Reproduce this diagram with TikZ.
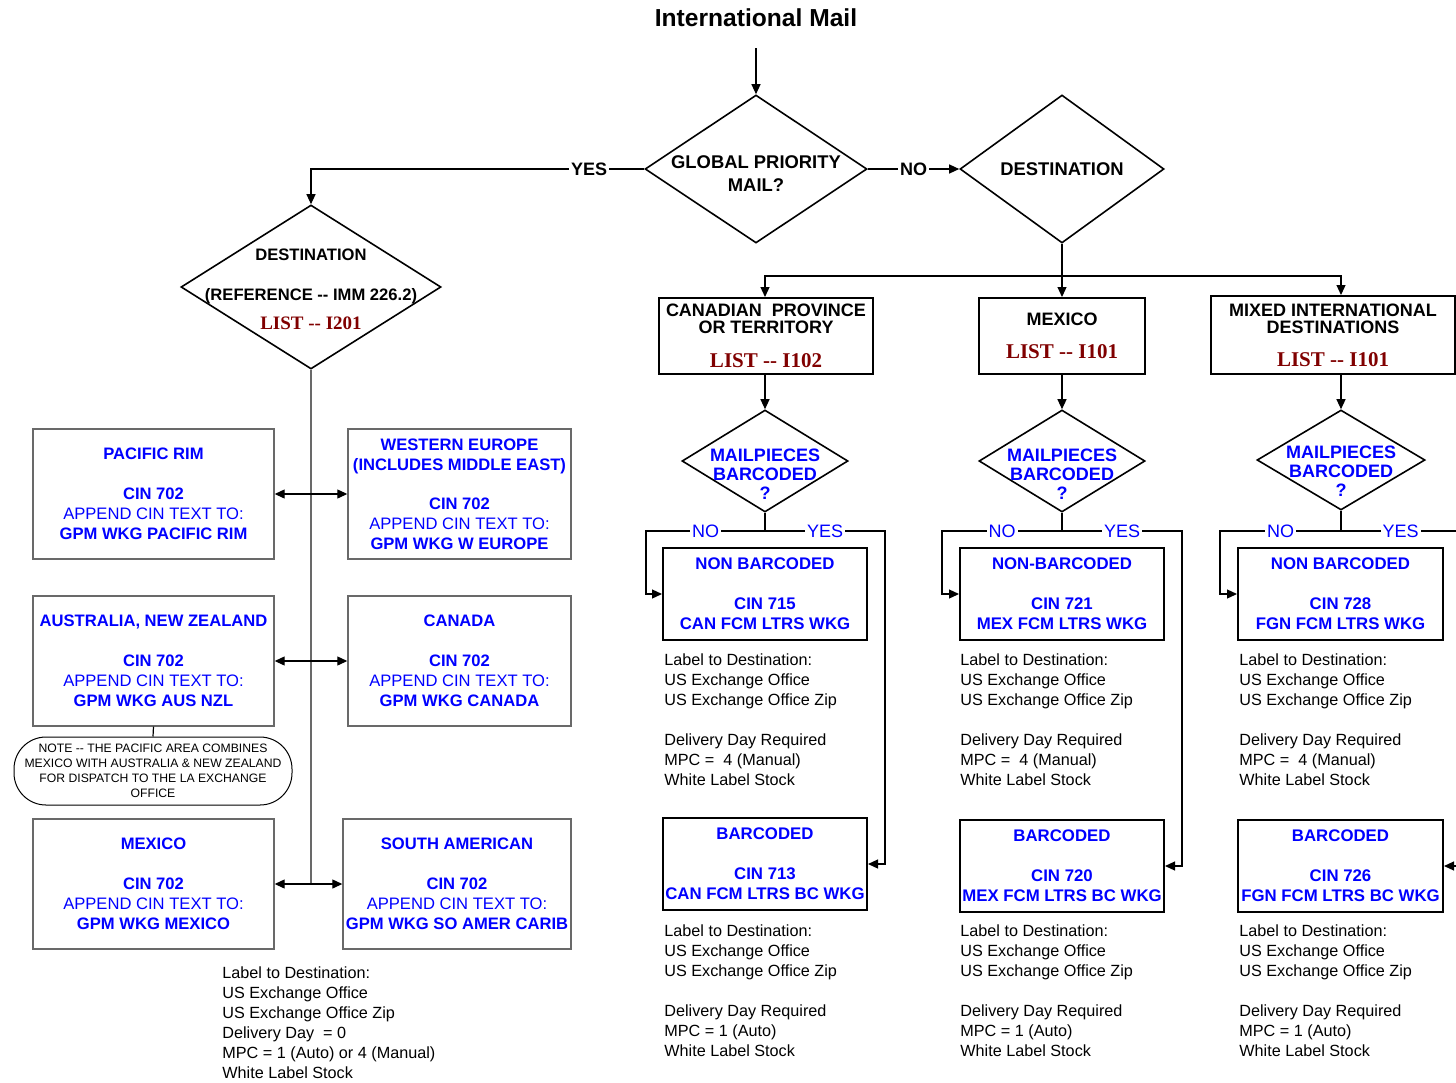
\documentclass[tikz,border=0pt]{standalone}
\usepackage{fontspec}
\setmainfont{Liberation Sans}
\newfontfamily\listfont{Liberation Serif}
\usepackage{tikz}
\usetikzlibrary{positioning,arrows.meta,shapes.geometric}
\definecolor{cinblue}{RGB}{0,0,255}
\definecolor{listred}{RGB}{128,0,0}
\definecolor{edgegrey}{RGB}{105,105,105}
\newcommand{\listtag}[2][10.5]{{\listfont\bfseries\fontsize{#1}{#1}\selectfont\color{listred}LIST -{}- #2}}
\tikzset{
  dmd/.style  ={draw, diamond, line width=0.8pt, inner sep=0pt},
  dtxt/.style ={align=center, inner sep=0pt, font=\bfseries\fontsize{9.2}{11.5}\selectfont},
  qtxt/.style ={align=center, inner sep=0pt, text=cinblue, font=\bfseries\fontsize{9}{9.5}\selectfont},
  hbox/.style ={draw, line width=1pt, align=center, inner sep=0pt,
                font=\bfseries\fontsize{9}{8.5}\selectfont},
  cbox/.style ={draw, line width=1pt, align=center, inner sep=0pt, text=cinblue,
                font=\bfseries\fontsize{8.4}{10}\selectfont, minimum width=102pt, minimum height=46pt},
  gbox/.style ={draw=edgegrey, line width=0.7pt, align=center, inner sep=0pt, text=cinblue,
                font=\fontsize{8.3}{10}\selectfont, minimum height=65pt},
  note/.style ={draw, line width=0.5pt, rounded corners=16pt, align=center, inner sep=0pt,
                font=\fontsize{6.1}{7.5}\selectfont, minimum width=139pt, minimum height=34pt},
  info/.style ={align=left, anchor=north west, inner sep=0pt, font=\fontsize{8.1}{10}\selectfont},
  lblk/.style ={fill=white, inner sep=1pt, font=\bfseries\fontsize{9}{9}\selectfont},
  lblb/.style ={fill=white, inner sep=1pt, text=cinblue, font=\fontsize{9}{9}\selectfont},
  ln/.style   ={line width=0.6pt},
  spine/.style={draw=edgegrey, line width=0.7pt},
  ar/.style   ={-{Triangle[length=5pt,width=4.5pt]}, line width=0.6pt},
  dar/.style  ={{Triangle[length=5pt,width=4.5pt]}-{Triangle[length=5pt,width=4.5pt]}, line width=0.6pt},
}

\begin{document}
\begin{tikzpicture}[x=0.5pt,y=-0.5pt]
\useasboundingbox (0,0) rectangle (1456,1082);

\node[font=\bfseries\fontsize{12.3}{14}\selectfont] (title) at (756,18) {International Mail};
\coordinate (start) at (756,48);

\node[dmd, minimum width=111pt, minimum height=74pt] (gpm) at (756,169) {};
\node[dtxt, yshift=-2.5pt] (gpmtxt) at (gpm) {GLOBAL PRIORITY\\MAIL?};
\node[dmd, minimum width=102pt, minimum height=74pt] (dst) at (1062,169) {};
\node[dtxt] (dsttxt) at (dst) {DESTINATION};
\node[dmd, minimum width=130pt, minimum height=82pt] (ldst) at (311,287) {};
\node[dtxt, font=\bfseries\fontsize{8.3}{10}\selectfont, yshift=-1pt] (ldsttxt) at (ldst)
     {DESTINATION\\[10pt](REFERENCE -{}- IMM 226.2)\\[4.5pt]\listtag[9.5]{I201}};

\draw[ar] (start) -- (gpm.north);
\coordinate (yescnr) at (ldst.north |- gpm.west);
\draw[ar] (gpm.west) -- node[lblk,pos=0.165] {YES} (yescnr) -- (ldst.north);
\draw[ar] (gpm.east) -- node[lblk] {NO} (dst.west);

% right hand side
\node[hbox, minimum width=107pt, minimum height=38pt] (canbox) at (766,336)
     {CANADIAN \ PROVINCE\\OR TERRITORY\\[8.5pt]\listtag{I102}};
\node[hbox, minimum width=83pt, minimum height=38pt] (mexbox) at (1062,336)
     {MEXICO\\[8pt]\listtag{I101}};
\node[hbox, minimum width=122pt, minimum height=39pt] (mixbox) at (1333,335)
     {MIXED INTERNATIONAL\\DESTINATIONS\\[8pt]\listtag{I101}};

\node[dmd, minimum width=83pt, minimum height=51pt] (candia) at (765,461) {};
\node[qtxt, yshift=-6.5pt] (candiatxt) at (candia) {MAILPIECES\\BARCODED\\?};
\node[dmd, minimum width=83pt, minimum height=51pt] (mexdia) at (1062,461) {};
\node[qtxt, yshift=-6.5pt] (mexdiatxt) at (mexdia) {MAILPIECES\\BARCODED\\?};
\node[dmd, minimum width=84pt, minimum height=50pt] (mixdia) at (1341,460) {};
\node[qtxt, yshift=-5.5pt] (mixdiatxt) at (mixdia) {MAILPIECES\\BARCODED\\?};

\coordinate (split) at (1062,276);
\draw[ln] (dst.south) -- (split);
\draw[ar] (split) -| (candia.north |- canbox.north);
\draw[ar] (split) -- (mexbox.north);
\draw[ar] (split) -| (mixdia.north |- mixbox.north);
\draw[ar] (candia.north |- canbox.south) -- (candia.north);
\draw[ar] (mexbox.south) -- (mexdia.north);
\draw[ar] (mixdia.north |- mixbox.south) -- (mixdia.north);

\node[cbox] (cannb) at (765,594) {NON BARCODED\\[10pt]CIN 715\\CAN FCM LTRS WKG};
\node[cbox] (canbc) at (765,864) {BARCODED\\[10pt]CIN 713\\CAN FCM LTRS BC WKG};
\node[cbox] (mexnb) at (1062,594) {NON-BARCODED\\[10pt]CIN 721\\MEX FCM LTRS WKG};
\node[cbox] (mexbc) at (1062,866) {BARCODED\\[10pt]CIN 720\\MEX FCM LTRS BC WKG};
\node[cbox, minimum width=102.5pt] (mixnb) at (1340.5,594) {NON BARCODED\\[10pt]CIN 728\\FGN FCM LTRS WKG};
\node[cbox, minimum width=102.5pt] (mixbc) at (1340.5,866) {BARCODED\\[10pt]CIN 726\\FGN FCM LTRS BC WKG};

\coordinate (canfork) at (765,531);
\coordinate (canno) at (646,531);
\coordinate (canyes) at (885,531);
\draw[ln] (candia.south) -- (canfork);
\draw[ar] (canfork) -- node[lblb] {NO} (canno) |- (cannb.west);
\draw[ar] (canfork) -- node[lblb] {YES} (canyes) |- (canbc.east);

\coordinate (mexfork) at (1062,531);
\coordinate (mexno) at (942,531);
\coordinate (mexyes) at (1182,531);
\draw[ln] (mexdia.south) -- (mexfork);
\draw[ar] (mexfork) -- node[lblb] {NO} (mexno) |- (mexnb.west);
\draw[ar] (mexfork) -- node[lblb] {YES} (mexyes) |- (mexbc.east);

\coordinate (mixfork) at (1341,531);
\coordinate (mixno) at (1220,531);
\coordinate (mixyes) at (1460,531);
\draw[ln] (mixdia.south) -- (mixfork);
\draw[ar] (mixfork) -- node[lblb] {NO} (mixno) |- (mixnb.west);
\draw[ar] (mixfork) -- node[lblb] {YES} (mixyes) |- (mixbc.east);

\node[info] (caninfo) at (664,653) {Label to Destination:\\US Exchange Office\\US Exchange Office Zip\\[10pt]Delivery Day Required\\MPC = \ 4 (Manual)\\White Label Stock};
\node[info] (caninfobc) at (664,924) {Label to Destination:\\US Exchange Office\\US Exchange Office Zip\\[10pt]Delivery Day Required\\MPC = 1 (Auto)\\White Label Stock};
\node[info] (mexinfo) at (960,653) {Label to Destination:\\US Exchange Office\\US Exchange Office Zip\\[10pt]Delivery Day Required\\MPC = \ 4 (Manual)\\White Label Stock};
\node[info] (mexinfobc) at (960,924) {Label to Destination:\\US Exchange Office\\US Exchange Office Zip\\[10pt]Delivery Day Required\\MPC = 1 (Auto)\\White Label Stock};
\node[info] (mixinfo) at (1239,653) {Label to Destination:\\US Exchange Office\\US Exchange Office Zip\\[10pt]Delivery Day Required\\MPC = \ 4 (Manual)\\White Label Stock};
\node[info] (mixinfobc) at (1239,924) {Label to Destination:\\US Exchange Office\\US Exchange Office Zip\\[10pt]Delivery Day Required\\MPC = 1 (Auto)\\White Label Stock};

% left hand side
\node[gbox, minimum width=120.5pt] (pacrim) at (153.5,494)
     {\textbf{PACIFIC RIM}\\[10pt]\textbf{CIN 702}\\APPEND CIN TEXT TO:\\\textbf{GPM WKG PACIFIC RIM}};
\node[gbox, minimum width=111.5pt] (weur) at (459.5,494)
     {\textbf{WESTERN EUROPE}\\\textbf{(INCLUDES MIDDLE EAST)}\\[9.5pt]\textbf{CIN 702}\\APPEND CIN TEXT TO:\\\textbf{GPM WKG W EUROPE}};
\node[gbox, minimum width=120.5pt] (ausnz) at (153.5,661)
     {\textbf{AUSTRALIA, NEW ZEALAND}\\[10pt]\textbf{CIN 702}\\APPEND CIN TEXT TO:\\\textbf{GPM WKG AUS NZL}};
\node[gbox, minimum width=111.5pt] (canada) at (459.5,661)
     {\textbf{CANADA}\\[10pt]\textbf{CIN 702}\\APPEND CIN TEXT TO:\\\textbf{GPM WKG CANADA}};
\node[note] (pacnote) at (153,771)
     {NOTE -{}- THE PACIFIC AREA COMBINES\\MEXICO WITH AUSTRALIA \& NEW ZEALAND\\FOR DISPATCH TO THE LA EXCHANGE\\OFFICE};
\node[gbox, minimum width=120.5pt] (mexico) at (153.5,884)
     {\textbf{MEXICO}\\[10pt]\textbf{CIN 702}\\APPEND CIN TEXT TO:\\\textbf{GPM WKG MEXICO}};
\node[gbox, minimum width=114pt] (soam) at (457,884)
     {\textbf{SOUTH AMERICAN}\\[10pt]\textbf{CIN 702}\\APPEND CIN TEXT TO:\\\textbf{GPM WKG SO AMER CARIB}};

\draw[ln] (ausnz.south) -- (pacnote.north);
\draw[spine] (ldst.south) -- (ldst.south |- mexico.east);
\draw[dar] (pacrim.east) -- (weur.west);
\draw[dar] (ausnz.east) -- (canada.west);
\draw[dar] (mexico.east) -- (soam.west);

\node[info] (leftinfo) at (222,966) {Label to Destination:\\US Exchange Office\\US Exchange Office Zip\\Delivery Day \ = 0\\MPC = 1 (Auto) or 4 (Manual)\\White Label Stock};
\end{tikzpicture}
\end{document}
